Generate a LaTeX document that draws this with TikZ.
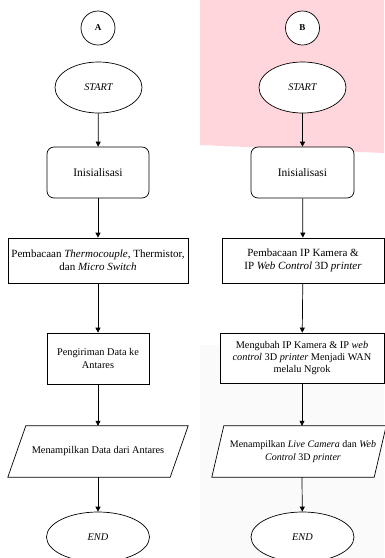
\documentclass[tikz,border=0pt]{standalone}
\usepackage{fontspec}
\setmainfont{Liberation Serif}
\usetikzlibrary{shapes.geometric,arrows.meta}
\definecolor{pinkbg}{RGB}{255,214,220}
\definecolor{greybg}{RGB}{250,250,250}
\begin{document}
\begin{tikzpicture}[x=1pt,y=-1pt,
  every node/.style={font=\fontsize{10.3}{12.3}\selectfont, align=center, inner sep=0pt},
  big/.style={font=\fontsize{11}{13.2}\selectfont},
  conn/.style={circle, draw, line width=0.7pt, minimum size=34pt, fill=white, font=\fontsize{9}{10}\selectfont\bfseries},
  term/.style={ellipse, draw, line width=0.7pt, fill=white, minimum width=87pt, minimum height=51pt},
  endterm/.style={ellipse, draw, line width=0.7pt, fill=white, minimum width=103pt, minimum height=50pt},
  rbox/.style={rectangle, rounded corners=7pt, draw, line width=0.7pt, fill=white, minimum width=102pt, minimum height=51pt, font=\fontsize{11.5}{13.5}\selectfont},
  pbox/.style={rectangle, draw, line width=0.7pt, fill=white},
  iobox/.style={rectangle, minimum height=51pt},
  arr/.style={-{Triangle[length=5pt,width=5pt]}, line width=0.7pt}
]
\useasboundingbox (0,0) rectangle (384,558);
\fill[white] (0,0) rectangle (384,558);
\fill[pinkbg] (200,0) -- (384,0) -- (384,153) -- (200,145) -- cycle;
\fill[greybg] (200,345) rectangle (384,558);

% Column A
\node[conn] (ca) at (98,28) {A};
\node[term] (sa) at (98.5,87.5) {\itshape START};
\node[rbox] (ia) at (98,172.5) {Inisialisasi};
\node[pbox, big, minimum width=180pt, minimum height=45pt] (pa) at (98,260.5) {Pembacaan \textit{Thermocouple}, Thermistor,\\ dan \textit{Micro Switch}};
\node[pbox, minimum width=102pt, minimum height=51pt] (ga) at (98,358.5) {Pengiriman Data ke\\ Antares};
\node[iobox, minimum width=162pt] (da) at (98,451.5) {};
\draw[line width=0.7pt, fill=white] ([xshift=9pt]da.north west) -- ([xshift=9pt]da.north east) -- ([xshift=-9pt]da.south east) -- ([xshift=-9pt]da.south west) -- cycle;
\node at (da) {Menampilkan Data dari Antares};
\node[endterm] (ea) at (98,537) {\itshape END};

\draw[arr] (sa) -- (ia);
\draw[arr] (ia) -- (pa);
\draw[arr] (pa) -- (ga);
\draw[arr] (ga) -- (da.north);
\draw[arr] (da.south) -- (ea);

% Column B
\node[conn] (cb) at (302.5,28) {B};
\node[term] (sb) at (302.5,87.5) {\itshape START};
\node[rbox, minimum width=103pt] (ib) at (302.5,172.5) {Inisialisasi};
\node[pbox, big, minimum width=162pt, minimum height=45pt] (pb) at (303,260.5) {Pembacaan IP Kamera \&\\ IP \textit{Web Control} 3D \textit{printer}};
\node[pbox, minimum width=164pt, minimum height=50pt] (gb) at (302,358) {Mengubah IP Kamera \& IP \textit{web}\\ \textit{control} 3D \textit{printer} Menjadi WAN\\ melalu Ngrok};
\node[iobox, minimum width=162pt] (db) at (299,451.5) {};
\draw[line width=0.7pt, fill=white] ([xshift=6pt]db.north west) -- ([xshift=6pt]db.north east) -- ([xshift=-6pt]db.south east) -- ([xshift=-6pt]db.south west) -- cycle;
\node[font=\fontsize{10}{12.3}\selectfont] at ([xshift=4pt]db.center) {Menampilkan \textit{Live Camera} dan \textit{Web}\\ \textit{Control} 3D \textit{printer}};
\node[endterm] (eb) at (302.5,537) {\itshape END};

\draw[arr] (sb) -- (ib);
\draw[arr] (ib) -- (pb);
\draw[arr] (pb) -- (gb);
\draw[arr] (gb.south) -- (gb.south |- db.north);
\draw[arr] (gb.south |- db.south) -- (eb);
\end{tikzpicture}
\end{document}
